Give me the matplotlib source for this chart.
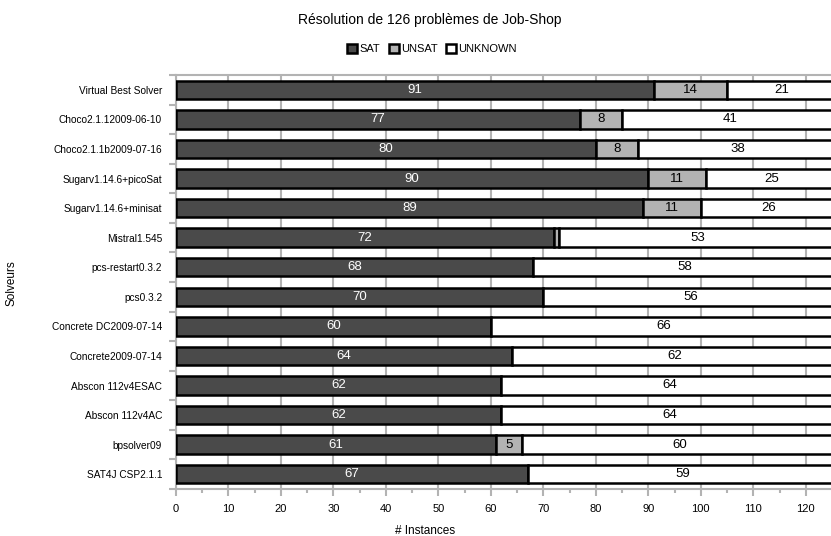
import matplotlib.pyplot as plt
import numpy as np

plt.rcParams['font.family'] = ['Liberation Sans', 'DejaVu Sans']

# données
solveurs = ['Virtual Best Solver', 'Choco2.1.12009-06-10', 'Choco2.1.1b2009-07-16',
            'Sugarv1.14.6+picoSat', 'Sugarv1.14.6+minisat', 'Mistral1.545',
            'pcs-restart0.3.2', 'pcs0.3.2', 'Concrete DC2009-07-14',
            'Concrete2009-07-14', 'Abscon 112v4ESAC', 'Abscon 112v4AC',
            'bpsolver09', 'SAT4J CSP2.1.1']
sat = [91, 77, 80, 90, 89, 72, 68, 70, 60, 64, 62, 62, 61, 67]
unsat = [14, 8, 8, 11, 11, 1, 0, 0, 0, 0, 0, 0, 5, 0]
unknown = [21, 41, 38, 25, 26, 53, 58, 56, 66, 62, 64, 64, 60, 59]

sat = np.array(sat)
unsat = np.array(unsat)
unknown = np.array(unknown)
y = np.arange(len(solveurs))

fig = plt.figure(figsize=(8.31, 5.36), dpi=100)
ax = fig.add_axes([176 / 831, 1 - 489 / 536, 1 - 176 / 831, (489 - 75) / 536])

h = 0.62
kw = dict(height=h, edgecolor='black', linewidth=1.8, zorder=3)
ax.barh(y, sat, color='#4a4a4a', label='SAT', **kw)
ax.barh(y, unsat, left=sat, color='#b3b3b3', label='UNSAT', **kw)
ax.barh(y, unknown, left=sat + unsat, color='white', label='UNKNOWN', **kw)

# étiquettes des valeurs
for i in range(len(solveurs)):
    ax.text(sat[i] / 2, y[i], str(sat[i]), ha='center', va='center',
            color='white', fontsize=9.5, zorder=4)
    if unsat[i] > 1:
        ax.text(sat[i] + unsat[i] / 2, y[i], str(unsat[i]), ha='center',
                va='center', color='black', fontsize=9.5, zorder=4)
    ax.text(sat[i] + unsat[i] + unknown[i] / 2, y[i], str(unknown[i]),
            ha='center', va='center', color='black', fontsize=9.5, zorder=4)

ax.set_xlim(0, 124.8)
ax.set_ylim(len(solveurs) - 0.5, -0.5)
ax.set_xticks(np.arange(0, 121, 10))
ax.set_xticks(np.arange(0, 125, 5), minor=True)
ax.set_yticks(y)
ax.set_yticklabels(solveurs)
ax.set_yticks(np.arange(-0.5, len(solveurs), 1), minor=True)

ax.grid(axis='x', which='major', color='#b3b3b3', linewidth=1.5, zorder=0)
ax.tick_params(axis='y', which='major', length=0, pad=10, labelsize=7.3)
ax.tick_params(axis='y', which='minor', length=5, color='#b3b3b3', width=1.5)
ax.tick_params(axis='x', which='major', length=5, color='#b3b3b3', width=1.5,
               labelsize=8, pad=6)
ax.tick_params(axis='x', which='minor', length=3, color='#b3b3b3', width=1.5)

for s in ['left', 'bottom', 'top']:
    ax.spines[s].set_color('#b3b3b3')
    ax.spines[s].set_linewidth(1.5)
ax.spines['right'].set_visible(False)

ax.set_xlabel('# Instances', fontsize=8.5, va='center')
ax.xaxis.set_label_coords((425 - 176) / (831 - 176), -(531 - 489) / 414)
fig.text(12 / 831, 1 - 283 / 536, 'Solveurs', rotation=90, ha='center',
         va='center', fontsize=8.5)

fig.text(430 / 831, 1 - 20 / 536, 'Résolution de 126 problèmes de Job-Shop',
         ha='center', va='center', fontsize=10)
fig.legend(loc='center', bbox_to_anchor=(432 / 831, 1 - 49 / 536), ncol=3,
           frameon=False, fontsize=8, handlelength=0.9, handleheight=0.9,
           handletextpad=0.2, columnspacing=0.8)

plt.savefig('out.png', dpi=100)
